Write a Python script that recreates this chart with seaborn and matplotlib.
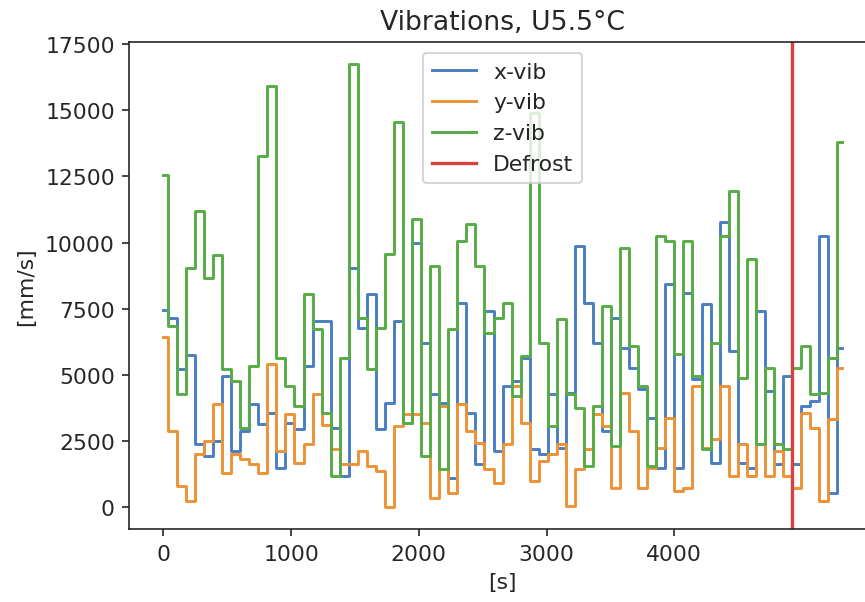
import numpy as np
import pandas as pd
import matplotlib
matplotlib.use("Agg")
import matplotlib.pyplot as plt
import seaborn as sns

# time stamps [s]
t = [0, 71, 142, 212, 283, 354, 425, 496, 566, 637, 708, 779, 850, 920, 991,
     1062, 1133, 1204, 1274, 1345, 1416, 1487, 1558, 1628, 1699, 1770, 1841,
     1912, 1982, 2053, 2124, 2195, 2266, 2336, 2407, 2478, 2549, 2620, 2690,
     2761, 2832, 2903, 2974, 3044, 3115, 3186, 3257, 3328, 3398, 3469, 3540,
     3611, 3682, 3752, 3823, 3894, 3965, 4036, 4106, 4177, 4248, 4319, 4390,
     4460, 4531, 4602, 4673, 4744, 4814, 4885, 4956, 5027, 5098, 5168, 5239,
     5310]

x_vib = [7459, 7169, 5216, 5746, 2381, 1940, 2500, 4964, 2129, 2885,
         3893, 3137, 3578, 1499, 3200, 2948, 5342, 7043, 7043, 3011,
         1184, 9059, 6791, 8051, 2948, 3956, 7043, 3200, 10000, 6224,
         4271, 3956, 1121, 7736, 3578, 1625, 7421, 2129, 4586, 4775,
         5657, 2192, 2003, 4271, 2255, 4334, 9878, 7736, 6224, 2885,
         7169, 6035, 5279, 4460, 3389, 1499, 8429, 1499, 8114, 4838,
         7673, 1688, 10760, 5909, 1688, 1499, 7421, 4397, 1625, 4964,
         1625, 3830, 4019, 10256, 554, 6035]

y_vib = [6439, 2885, 806, 239, 2003, 2507, 3893, 1310, 2003, 1814,
         1625, 1310, 5405, 2129, 3515, 1688, 2381, 4271, 3100, 2192,
         1625, 1625, 2129, 1562, 1373, 20, 3074, 3515, 3515, 3200,
         365, 3830, 554, 3893, 2885, 2444, 1436, 932, 2381, 4586,
         3200, 995, 1751, 2003, 2381, 60, 1436, 2192, 3515, 3074,
         743, 4334, 2885, 743, 1499, 2255, 3389, 617, 743, 4586,
         2255, 2570, 4586, 1184, 2381, 1184, 2381, 1184, 2129, 1184,
         743, 3578, 3011, 239, 3326, 5279]

z_vib = [12550, 6854, 4271, 9059, 11200, 8681, 9525, 5216, 4775, 3011,
         5342, 13280, 15926, 5657, 4586, 3830, 8051, 6728, 3578, 1184,
         5657, 16745, 7169, 5216, 6791, 9563, 14540, 3200, 10886, 1940,
         9122, 1436, 6728, 10067, 10697, 9122, 6602, 7169, 7736, 4200,
         5720, 14900, 6224, 3074, 7106, 4271, 3767, 1562, 3830, 7610,
         2318, 9815, 6098, 4586, 1562, 10256, 10067, 5783, 10067, 4964,
         2192, 6224, 10256, 11957, 4901, 9374, 2381, 5279, 2381, 2200,
         5279, 6098, 4271, 4334, 5657, 13810]

series_names = ["x-vib", "y-vib", "z-vib"]
defrost_t = 4920
xticks = [0, 1000, 2000, 3000, 4000]

colors = ["#4a7ec2", "#ee9236", "#56ac45"]
defrost_color = "#d8403e"

plt.rcParams.update({
    "font.size": 10.5,
    "axes.titlesize": 12.8,
    "text.color": "#262626",
    "axes.labelcolor": "#262626",
    "xtick.color": "#262626",
    "ytick.color": "#262626",
    "axes.edgecolor": "#262626",
})

fig = plt.figure(figsize=(865 / 150, 603 / 150), dpi=150)
ax = fig.add_axes([0.1496, 0.1209, 0.8627, 0.8081])

for vals, name, c in zip([x_vib, y_vib, z_vib], series_names, colors):
    sns.lineplot(x=t, y=vals, ax=ax, color=c, drawstyle="steps-mid",
                 linewidth=1.4, legend=False)

vline = ax.axvline(defrost_t, color=defrost_color, linewidth=1.6)

handles = list(ax.lines[:3]) + [vline]
ax.legend(handles, series_names + ["Defrost"], loc="upper center")

ax.set_xticks(xticks)
ax.set_title("Vibrations, U5.5°C")
ax.set_xlabel("[s]")
ax.set_ylabel("[mm/s]")

fig.savefig("out.png", dpi=150)
